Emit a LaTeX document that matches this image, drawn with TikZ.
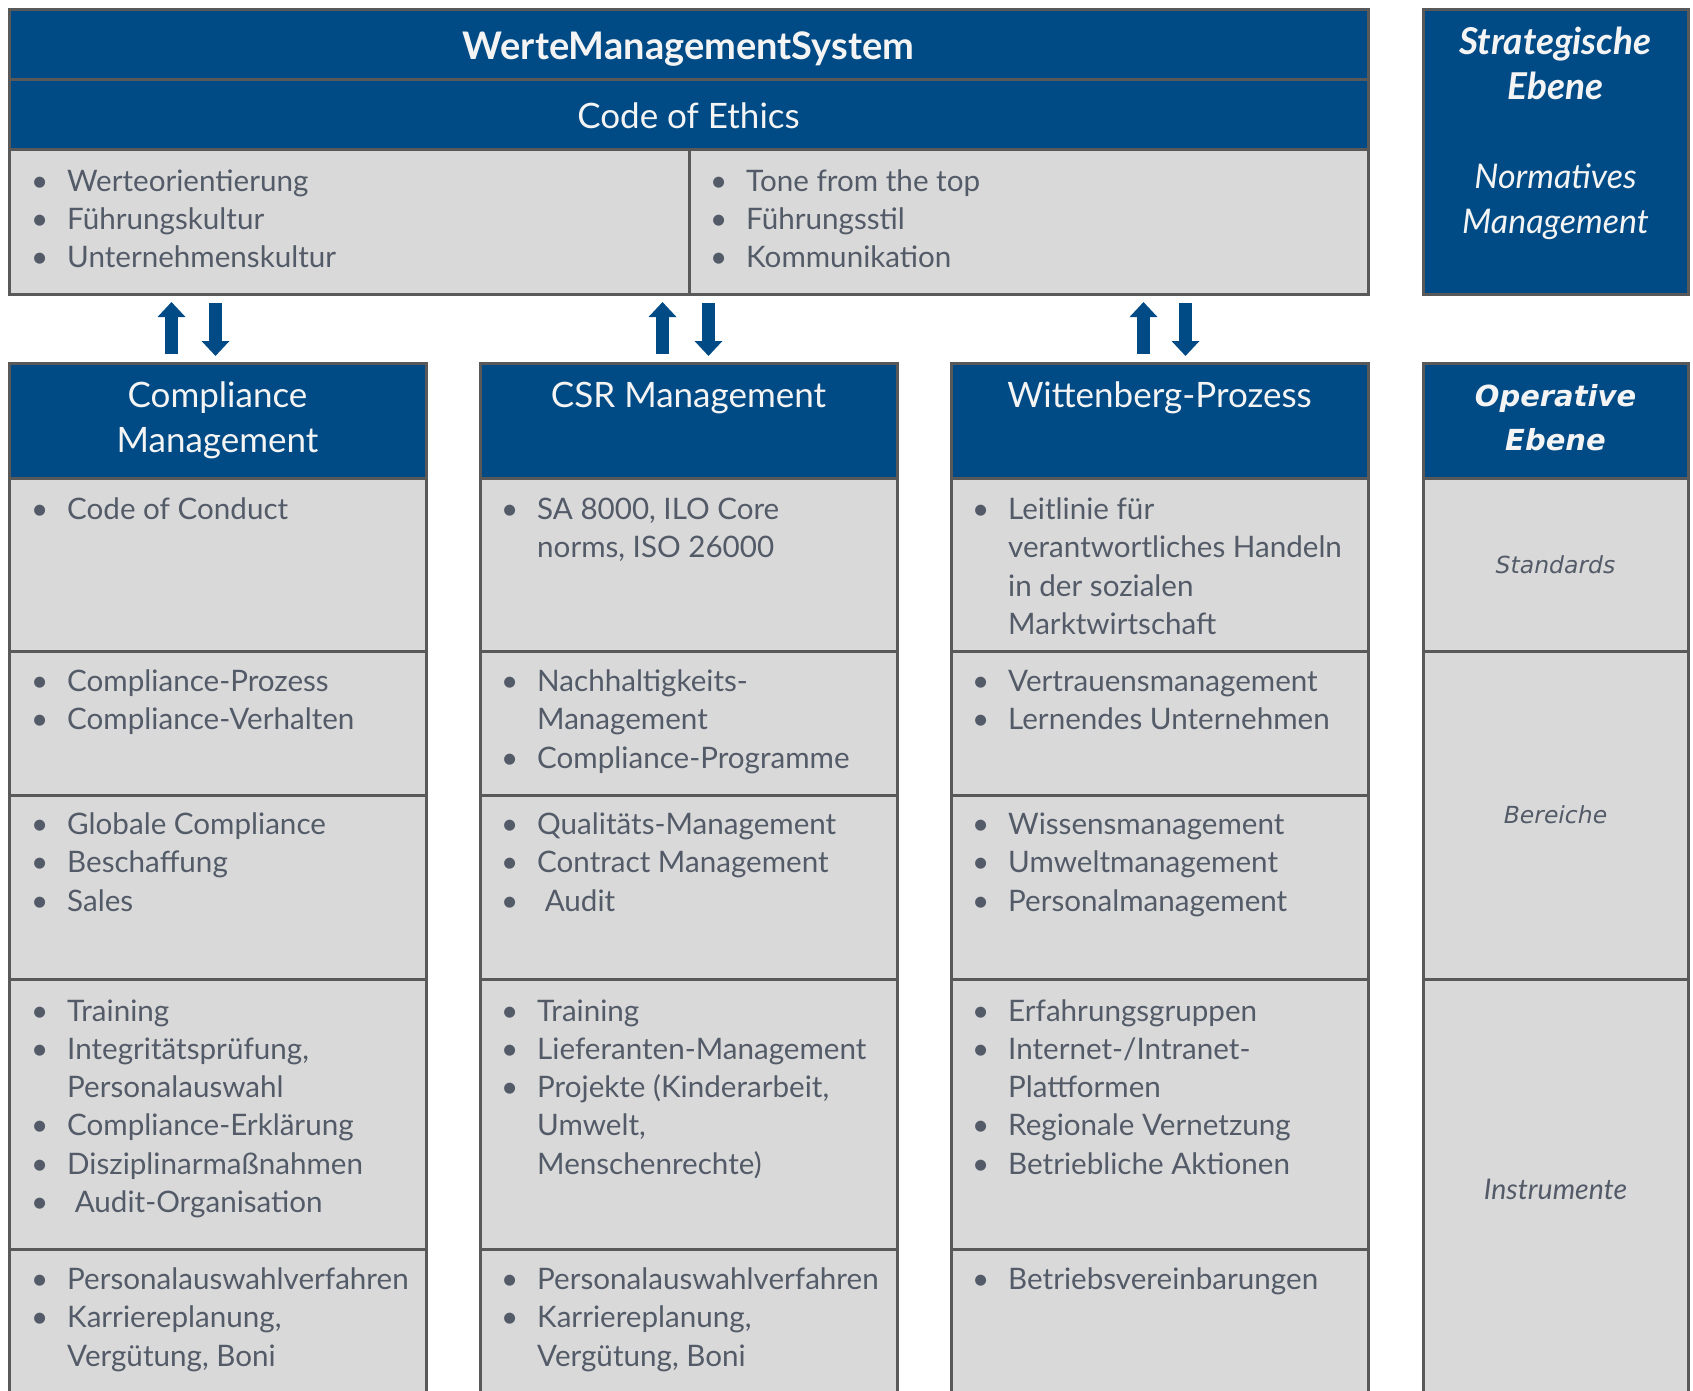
\documentclass[tikz,border=0pt]{standalone}
\usepackage{fontspec}
\setmainfont{Lato}
\newfontfamily\widefont{DejaVu Sans}
\usetikzlibrary{arrows.meta,calc,positioning}
\definecolor{wms-blue}{HTML}{004B85}
\definecolor{wms-frame}{HTML}{595959}
\definecolor{wms-cell}{HTML}{D9D9D9}
\definecolor{wms-text}{HTML}{545B68}
\definecolor{wms-white}{HTML}{F4F4F4}
\newcommand{\itm}[1]{\strut\makebox[36pt][l]{\textbullet}#1}
\newcommand{\cnt}[1]{\strut\hspace*{36pt}#1}
\tikzset{
  hdrcell/.style={draw=wms-frame, line width=3pt, fill=wms-blue, inner sep=0pt, outer sep=0pt},
  bodycell/.style={draw=wms-frame, line width=3pt, fill=wms-cell, inner sep=0pt, outer sep=0pt},
  colcell/.style={bodycell, minimum width=417},
  itemtext/.style={anchor=north west, inner sep=0pt, align=left, text=wms-text,
    font=\fontsize{29.6}{38.3}\selectfont},
  headtext/.style={anchor=north, inner sep=0pt, align=center, text=wms-white,
    font=\fontsize{35}{45}\selectfont},
  leveltext/.style={inner sep=0pt, text=wms-text},
  bigarrow/.style={draw=wms-blue, line width=13pt, -{Triangle[width=27pt,length=15pt]}}
}

\begin{document}
\begin{tikzpicture}[x=1pt,y=-1pt]
\clip (0,0) rectangle (1693,1390);
% normative level
\node[hdrcell, anchor=north west, minimum width=1359, minimum height=70] (wms) at (9,9) {};
\node[hdrcell, minimum width=1359, minimum height=70, below=0pt of wms] (coe) {};
\node[bodycell, anchor=north west, minimum width=680, minimum height=145] (val) at (coe.south west) {};
\node[bodycell, minimum width=679, minimum height=145, right=0pt of val] (lead) {};
\node[hdrcell, anchor=north west, minimum width=265, minimum height=285] (strat) at (1423,9) {};
\node[inner sep=0pt, anchor=base, text=wms-white, font=\fontsize{38}{40}\selectfont\bfseries] (wms-t) at ($(wms.center)+(0,15)$) {WerteManagementSystem};
\node[inner sep=0pt, anchor=base, text=wms-white, font=\fontsize{35}{40}\selectfont] (coe-t) at ($(coe.center)+(0,14)$) {Code of Ethics};
\node[itemtext] (val-t) at ($(val.north west)+(22,15)$) {\itm{Werteorientierung}\\ \itm{Führungskultur}\\ \itm{Unternehmenskultur}};
\node[itemtext] (lead-t) at ($(lead.north west)+(21,15)$) {\itm{Tone from the top}\\ \itm{Führungsstil}\\ \itm{Kommunikation}};
\node[headtext, font=\fontsize{37}{45}\selectfont\bfseries\itshape] (strat-t) at ($(strat.north)+(0,14)$) {\strut Strategische\\Ebene};
\node[headtext, font=\fontsize{34}{45}\selectfont\itshape] (norm-t) at ($(strat.north)+(0,148)$) {\strut Normatives\\Management};

% operative level
\foreach \x/\c in {9/cm, 480/csr, 951/wp}{
  \node[hdrcell, anchor=north west, minimum width=417, minimum height=115] (\c-0) at (\x,363) {};
  \node[colcell, minimum height=173, below=0pt of \c-0] (\c-1) {};
  \node[colcell, minimum height=144, below=0pt of \c-1] (\c-2) {};
  \node[colcell, minimum height=184, below=0pt of \c-2] (\c-3) {};
  \node[colcell, minimum height=270, below=0pt of \c-3] (\c-4) {};
  \node[colcell, minimum height=160, below=0pt of \c-4] (\c-5) {};
}
\node[hdrcell, anchor=north west, minimum width=265, minimum height=115] (op-0) at (1423,363) {};
\node[bodycell, minimum width=265, minimum height=173, below=0pt of op-0] (op-1) {};
\node[bodycell, minimum width=265, minimum height=328, below=0pt of op-1] (op-2) {};
\node[bodycell, minimum width=265, minimum height=421, below=0pt of op-2] (op-3) {};

\node[headtext] (cm-h) at ($(cm-0.north)+(0,13)$) {\strut Compliance\\Management};
\node[headtext] (csr-h) at ($(csr-0.north)+(0,13)$) {\strut CSR Management};
\node[headtext] (wp-h) at ($(wp-0.north)+(0,13)$) {\strut Wittenberg-Prozess};
\node[headtext, font=\fontsize{29}{44}\widefont\bfseries\itshape] (op-h) at ($(op-0.north)+(0,12)$) {\strut Operative\\Ebene};
\node[leveltext, font=\fontsize{23.5}{26}\widefont\itshape] (op-s) at (op-1.center) {Standards};
\node[leveltext, font=\fontsize{23.5}{26}\widefont\itshape] (op-b) at (op-2.center) {Bereiche};
\node[leveltext, font=\fontsize{28.5}{32}\selectfont\itshape] (op-i) at (op-3.center) {Instrumente};

% compliance management
\node[itemtext] (cm-t1) at ($(cm-1.north west)+(22,14.5)$) {\itm{Code of Conduct}};
\node[itemtext] (cm-t2) at ($(cm-2.north west)+(22,13.5)$) {\itm{Compliance-Prozess}\\ \itm{Compliance-Verhalten}};
\node[itemtext] (cm-t3) at ($(cm-3.north west)+(22,12.5)$) {\itm{Globale Compliance}\\ \itm{Beschaffung}\\ \itm{Sales}};
\node[itemtext] (cm-t4) at ($(cm-4.north west)+(22,15)$) {\itm{Training}\\ \itm{Integritätsprüfung,}\\ \cnt{Personalauswahl}\\ \itm{Compliance-Erklärung}\\ \itm{Disziplinarmaßnahmen}\\ \itm{\ Audit-Organisation}};
\node[itemtext] (cm-t5) at ($(cm-5.north west)+(22,13.5)$) {\itm{Personalauswahlverfahren}\\ \itm{Karriereplanung,}\\ \cnt{Vergütung, Boni}};

% CSR management
\node[itemtext] (csr-t1) at ($(csr-1.north west)+(21,14.5)$) {\itm{SA 8000, ILO Core}\\ \cnt{norms, ISO 26000}};
\node[itemtext] (csr-t2) at ($(csr-2.north west)+(21,13.5)$) {\itm{Nachhaltigkeits-}\\ \cnt{Management}\\ \itm{Compliance-Programme}};
\node[itemtext] (csr-t3) at ($(csr-3.north west)+(21,12.5)$) {\itm{Qualitäts-Management}\\ \itm{Contract Management}\\ \itm{\ Audit}};
\node[itemtext] (csr-t4) at ($(csr-4.north west)+(21,15)$) {\itm{Training}\\ \itm{Lieferanten-Management}\\ \itm{Projekte (Kinderarbeit,}\\ \cnt{Umwelt,}\\ \cnt{Menschenrechte)}};
\node[itemtext] (csr-t5) at ($(csr-5.north west)+(21,13.5)$) {\itm{Personalauswahlverfahren}\\ \itm{Karriereplanung,}\\ \cnt{Vergütung, Boni}};

% Wittenberg process
\node[itemtext] (wp-t1) at ($(wp-1.north west)+(21,14.5)$) {\itm{Leitlinie für}\\ \cnt{verantwortliches Handeln}\\ \cnt{in der sozialen}\\ \cnt{Marktwirtschaft}};
\node[itemtext] (wp-t2) at ($(wp-2.north west)+(21,13.5)$) {\itm{Vertrauensmanagement}\\ \itm{Lernendes Unternehmen}};
\node[itemtext] (wp-t3) at ($(wp-3.north west)+(21,12.5)$) {\itm{Wissensmanagement}\\ \itm{Umweltmanagement}\\ \itm{Personalmanagement}};
\node[itemtext] (wp-t4) at ($(wp-4.north west)+(21,15)$) {\itm{Erfahrungsgruppen}\\ \itm{Internet-/Intranet-}\\ \cnt{Plattformen}\\ \itm{Regionale Vernetzung}\\ \itm{Betriebliche Aktionen}};
\node[itemtext] (wp-t5) at ($(wp-5.north west)+(21,13.5)$) {\itm{Betriebsvereinbarungen}};

% up and down arrows
\foreach \c/\u/\d in {cm/-46/-2, csr/-26/20, wp/-16/26}{
  \draw[bigarrow, shorten <=9pt, shorten >=8pt] ([xshift=\u pt]\c-0.north) -- ([xshift=\u pt]\c-0.north |- val.south);
  \draw[bigarrow, shorten <=9pt, shorten >=7pt] ([xshift=\d pt]\c-0.north |- val.south) -- ([xshift=\d pt]\c-0.north);
}
\end{tikzpicture}
\end{document}
